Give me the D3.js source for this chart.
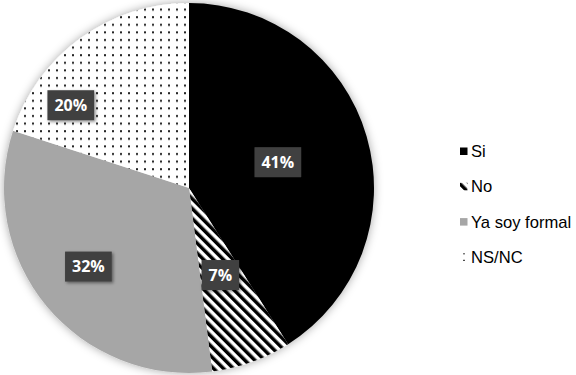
<!DOCTYPE html>
<html>
<head>
<meta charset="utf-8">
<script src="https://cdn.jsdelivr.net/npm/d3@7"></script>
<style>
  body { margin: 0; background: #fff; }
  .legend text { font-family: "Liberation Sans", Arial, sans-serif; font-size: 16.6px; fill: #000; }
  .lbl text { font-family: "Open Sans", "Noto Sans", sans-serif; font-weight: bold; font-size: 16px; fill: #fff; }
</style>
</head>
<body>
<div id="chart"></div>
<script>
const categories = ["Si", "No", "Ya soy formal", "NS/NC"];
const values = [41, 7, 32, 20];
const labels = ["41%", "7%", "32%", "20%"];

const width = 576;
const height = 375;
const cx = 189, cy = 188, radius = 185;

// label spots (angle clockwise from top in degrees, fraction of radius)
const labelSpots = [[73.8, 0.50], [160.2, 0.50], [232, 0.69], [305, 0.78]];

const svg = d3.select("#chart")
    .append("svg")
    .attr("width", width)
    .attr("height", height);

const defs = svg.append("defs");

const shadow = defs.append("filter")
    .attr("id", "shadow")
    .attr("x", "-20%").attr("y", "-20%")
    .attr("width", "140%").attr("height", "140%");
shadow.append("feDropShadow")
    .attr("dx", 0).attr("dy", 0)
    .attr("stdDeviation", 5)
    .attr("flood-color", "#000")
    .attr("flood-opacity", 0.35);

const boxShadow = defs.append("filter")
    .attr("id", "boxShadow")
    .attr("x", "-30%").attr("y", "-30%")
    .attr("width", "160%").attr("height", "160%");
boxShadow.append("feDropShadow")
    .attr("dx", 1.5).attr("dy", 1.5)
    .attr("stdDeviation", 1.5)
    .attr("flood-color", "#000")
    .attr("flood-opacity", 0.45);

const stripes = defs.append("pattern")
    .attr("id", "stripes")
    .attr("patternUnits", "userSpaceOnUse")
    .attr("width", 7).attr("height", 7)
    .attr("patternTransform", "rotate(-45)");
stripes.append("rect").attr("width", 7).attr("height", 7).attr("fill", "#fff");
stripes.append("rect").attr("width", 3.5).attr("height", 7).attr("fill", "#000");

const dots = defs.append("pattern")
    .attr("id", "dots")
    .attr("patternUnits", "userSpaceOnUse")
    .attr("width", 8).attr("height", 7.6);
dots.append("rect").attr("width", 8).attr("height", 7.6).attr("fill", "#fff");
dots.append("rect").attr("x", 3).attr("y", 3).attr("width", 2).attr("height", 2).attr("fill", "#222");

const fills = ["#000000", "url(#stripes)", "#a6a6a6", "url(#dots)"];

const colorScale = d3.scaleOrdinal()
    .domain(categories)
    .range(fills);

const pie = d3.pie()
    .sort(null)
    .value(function(d, i) { return values[i]; });

const arc = d3.arc()
    .innerRadius(0)
    .outerRadius(radius);

const g = svg.append("g")
    .attr("transform", `translate(${cx},${cy})`);

g.append("g")
    .attr("filter", "url(#shadow)")
    .selectAll("path")
    .data(pie(categories))
    .enter()
    .append("path")
        .attr("d", arc)
        .attr("fill", function(d) { return colorScale(d.data); });

const lbl = g.selectAll(".lbl")
    .data(labels)
    .enter()
    .append("g")
        .attr("class", "lbl")
        .attr("transform", function(d, i) {
            const a = labelSpots[i][0] * Math.PI / 180;
            const r = labelSpots[i][1] * radius;
            return `translate(${r * Math.sin(a)},${-r * Math.cos(a)})`;
        });

lbl.append("rect")
    .attr("fill", "#404040")
    .attr("filter", "url(#boxShadow)");

lbl.append("text")
    .attr("text-anchor", "middle")
    .attr("dy", "0.36em")
    .text(function(d) { return d; });

lbl.each(function() {
    const grp = d3.select(this);
    const w = grp.select("text").node().getComputedTextLength() + 14;
    grp.select("rect")
        .attr("x", -w / 2).attr("y", -15)
        .attr("width", w).attr("height", 30);
});

const legend = svg.append("g")
    .attr("class", "legend")
    .selectAll("g")
    .data(categories)
    .enter()
    .append("g")
        .attr("transform", function(d, i) { return `translate(460,${151 + i * 35.3})`; });

legend.append("rect")
    .attr("x", 0).attr("y", -3.5)
    .attr("width", 7.5).attr("height", 7.5)
    .attr("fill", function(d) { return colorScale(d); });

legend.append("text")
    .attr("x", 11)
    .attr("dy", "0.36em")
    .text(function(d) { return d; });
</script>
</body>
</html>
